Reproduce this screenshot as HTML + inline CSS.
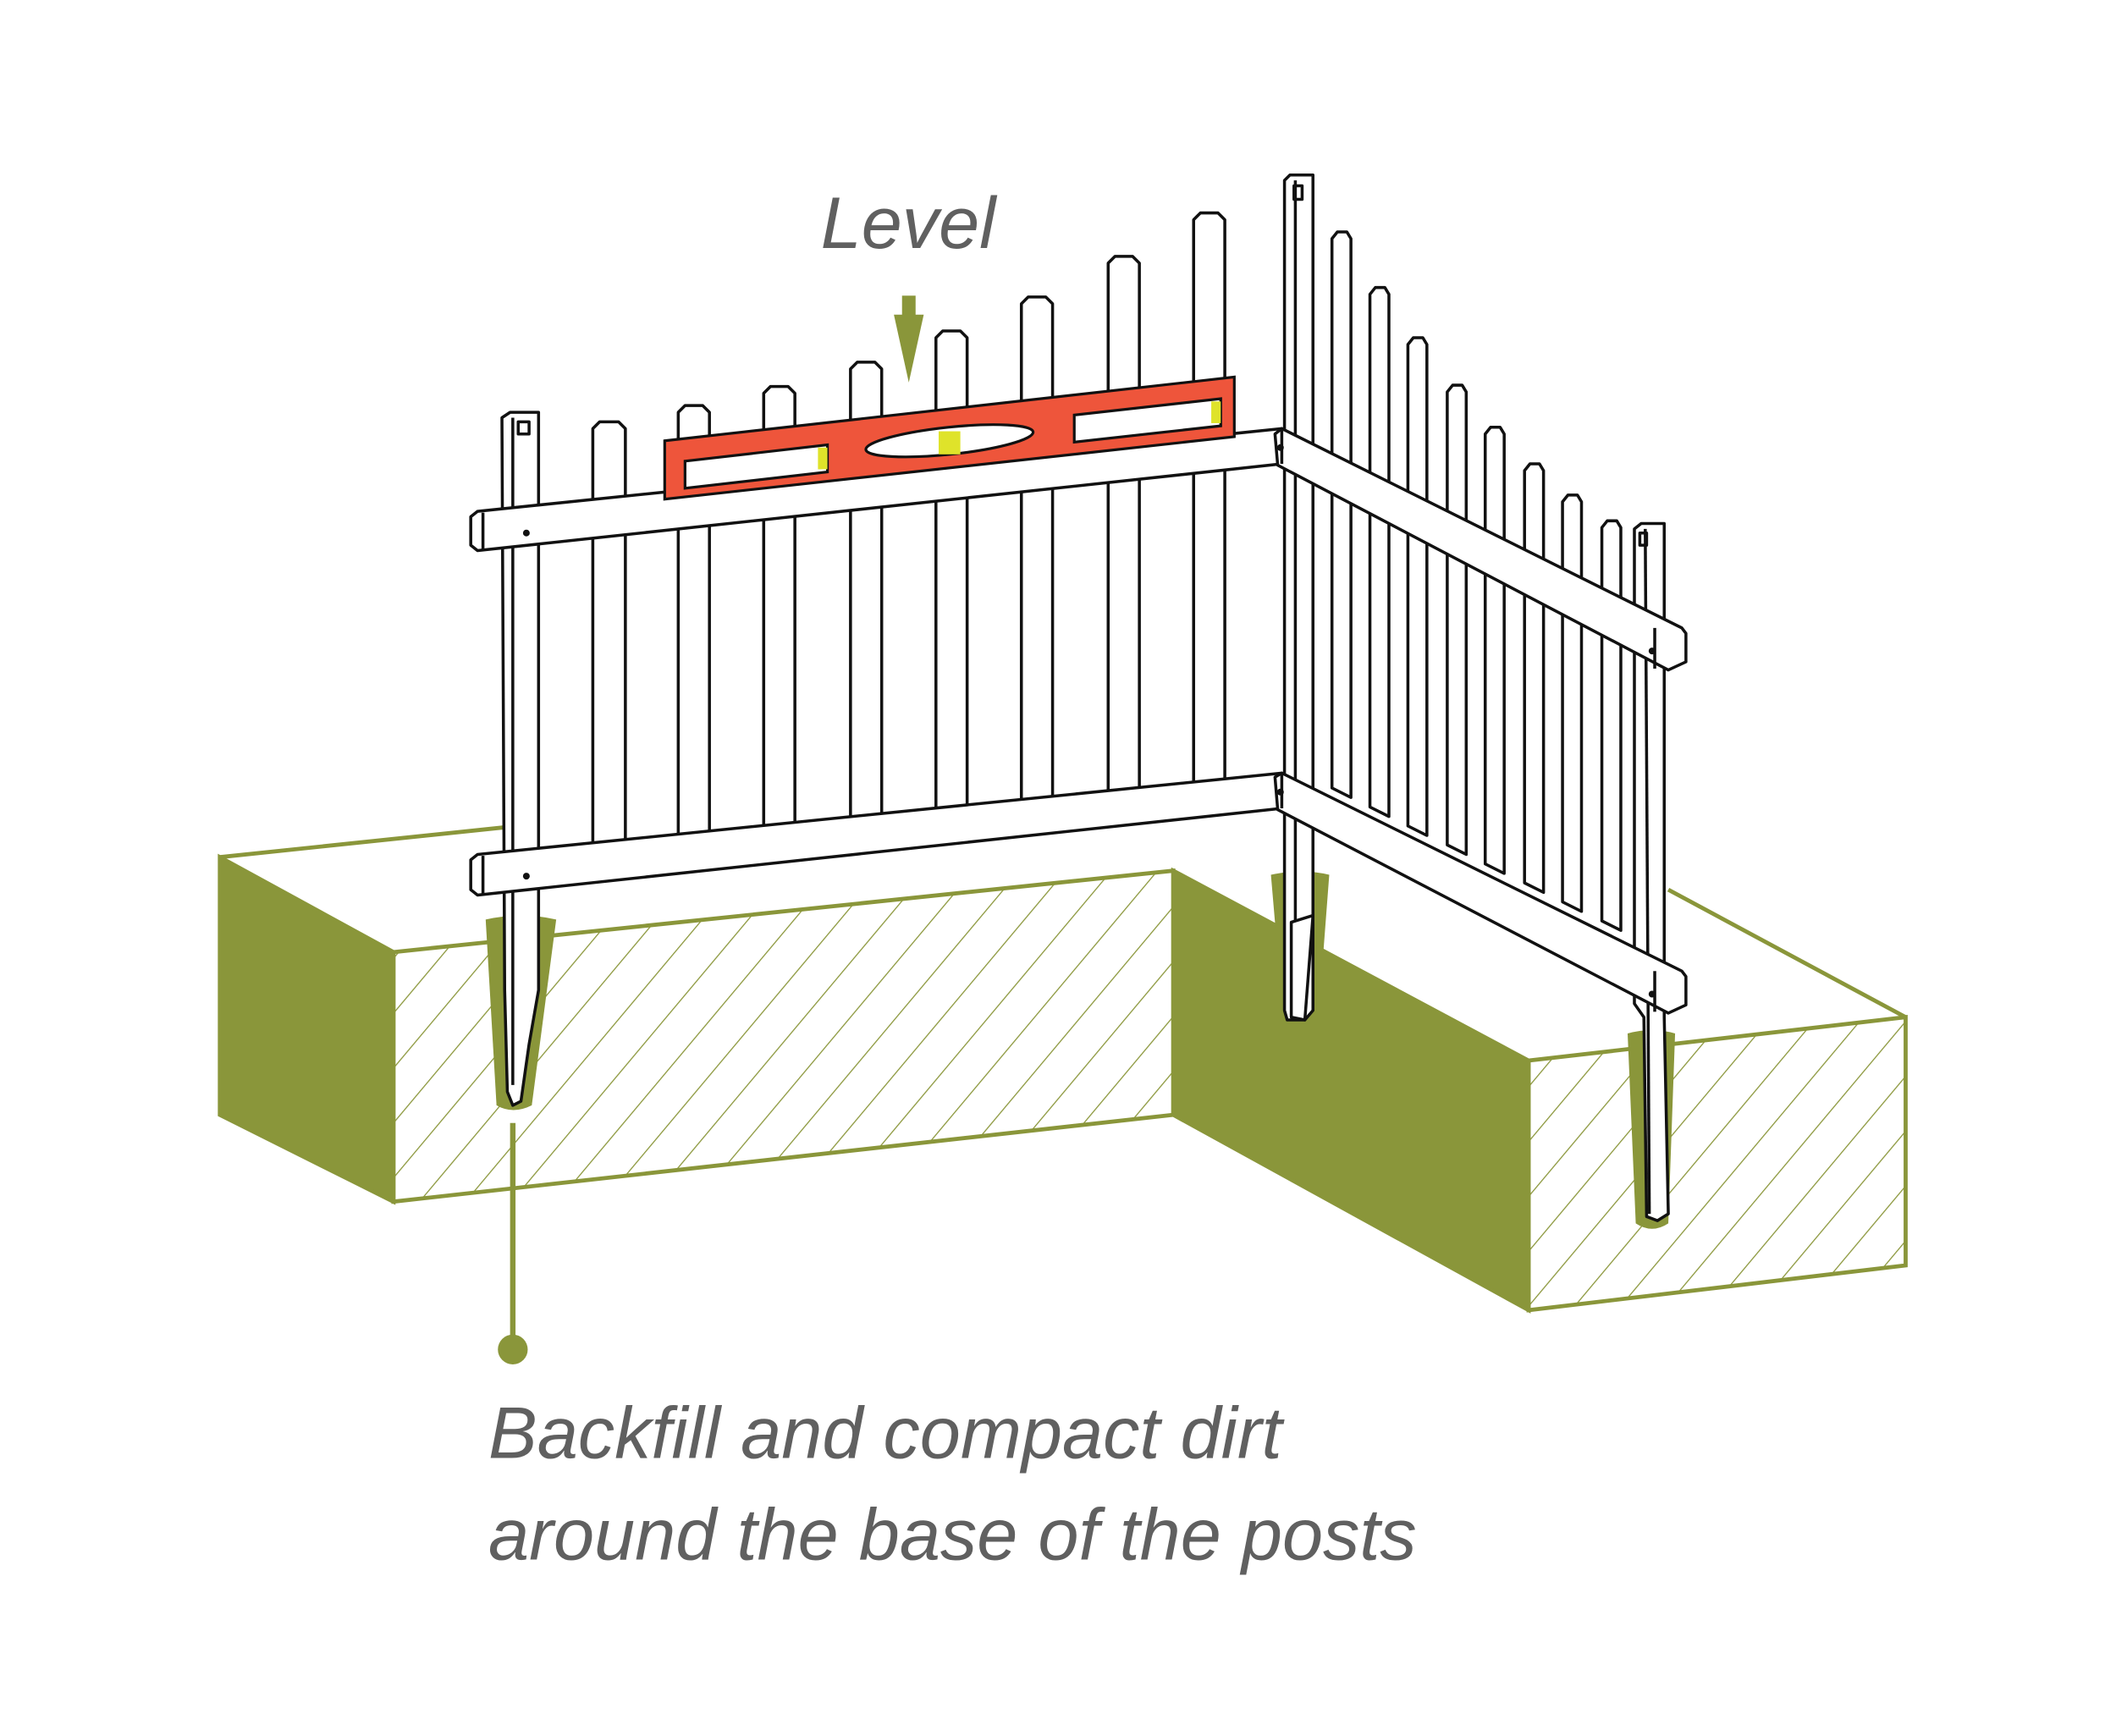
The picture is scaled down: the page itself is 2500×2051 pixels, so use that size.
<!DOCTYPE html>
<html><head><meta charset="utf-8"><style>
html,body{margin:0;padding:0;background:#fff;}
svg{display:block;}
</style></head><body>
<svg width="2500" height="2051" viewBox="0 0 1560 1280" xmlns="http://www.w3.org/2000/svg">
<defs>
<pattern id="h" patternUnits="userSpaceOnUse" width="26" height="26" patternTransform="rotate(40)">
<line x1="0" y1="0" x2="0" y2="26" stroke="#8a963a" stroke-width="1.6"/>
</pattern>
</defs>
<rect width="1560" height="1280" fill="#fff"/>
<g stroke="#8a963a" stroke-width="3" fill="none">
<line x1="162" y1="632" x2="372" y2="610"/>
<line x1="1230" y1="656" x2="1405" y2="750"/>
<polygon points="162,632 290,702 290,886 162,822" fill="#8a963a"/>
<polygon points="290,702 865,642 865,822 290,886" fill="url(#h)"/>
<polygon points="865,642 1127,782 1127,966 865,822" fill="#8a963a"/>
<polygon points="1127,782 1405,750 1405,933 1127,966" fill="url(#h)"/>
</g>
<!-- backfill -->
<g fill="#8a963a">
<path d="M358,678 Q384,672 410,678 L392,815 Q378,822 366,815 Z"/>
<path d="M937,645 Q959,640 980,645 L972,750 L946,750 Z"/>
<path d="M1200,762 Q1218,757 1235,762 L1230,902 Q1218,910 1206,902 Z"/>
</g>
<g stroke="#111" stroke-width="2.2" fill="#fff" stroke-linejoin="round">
<!-- left post -->
<path d="M370,308 L376,304 L397,304 L397,730 L390,770 L384,812 L378,815 L374,805 L372,730 Z"/>
<rect x="382" y="311" width="8" height="9"/>
<line x1="378" y1="308" x2="378" y2="800"/>
<!-- left pickets -->
<path d="M437,316 L442,311 L456,311 L461,316 L461,624 L437,626 Z"/>
<path d="M500,304 L505,299 L518,299 L523,304 L523,618 L500,620 Z"/>
<path d="M563,290 L568,285 L581,285 L586,290 L586,611 L563,613 Z"/>
<path d="M627,272 L632,267 L645,267 L650,272 L650,605 L627,607 Z"/>
<path d="M690,249 L695,244 L708,244 L713,249 L713,598 L690,600 Z"/>
<path d="M753,224 L758,219 L771,219 L776,224 L776,592 L753,594 Z"/>
<path d="M817,194 L822,189 L835,189 L840,194 L840,585 L817,587 Z"/>
<path d="M880,162 L885,157 L898,157 L903,162 L903,579 L880,581 Z"/>
<!-- corner post -->
<path d="M947,133 L951,129 L968,129 L968,745 L962,752 L949,752 L947,745 Z"/>
<rect x="954" y="137" width="6" height="10"/>
<line x1="955" y1="133" x2="955" y2="745"/>
<path d="M952,680 L968,675 L962,752 L952,750 Z"/>
<!-- right pickets -->
<path d="M982,176 L986,171 L993,171 L996,176 L996,588 L982,581 Z"/>
<path d="M1010,217 L1014,212 L1021,212 L1024,217 L1024,602 L1010,595 Z"/>
<path d="M1038,254 L1042,249 L1049,249 L1052,254 L1052,616 L1038,609 Z"/>
<path d="M1067,289 L1071,284 L1078,284 L1081,289 L1081,630 L1067,623 Z"/>
<path d="M1095,320 L1099,315 L1106,315 L1109,320 L1109,644 L1095,637 Z"/>
<path d="M1124,347 L1128,342 L1135,342 L1138,347 L1138,658 L1124,651 Z"/>
<path d="M1152,370 L1156,365 L1163,365 L1166,370 L1166,672 L1152,665 Z"/>
<path d="M1181,389 L1185,384 L1192,384 L1195,389 L1195,686 L1181,679 Z"/>
<!-- right post -->
<path d="M1205,390 L1210,386 L1227,386 L1227,750 L1230,895 L1222,900 L1214,897 L1212,750 L1205,740 Z"/>
<rect x="1209" y="393" width="5" height="9"/>
<line x1="1213" y1="390" x2="1216" y2="895"/>
<!-- left rails -->
<path d="M347,381 L352,377 L945,316 L945,342 L352,406 L347,402 Z"/>
<line x1="356" y1="378" x2="356" y2="406"/>
<path d="M347,634 L352,630 L945,570 L945,596 L352,660 L347,656 Z"/>
<line x1="356" y1="631" x2="356" y2="660"/>
<!-- right rails -->
<path d="M940,320 L945,316 L1240,463 L1243,467 L1243,488 L1230,494 L942,343 Z"/>
<line x1="945" y1="316" x2="945" y2="342"/>
<line x1="1220" y1="463" x2="1220" y2="493"/>
<path d="M940,573 L945,570 L1240,716 L1243,720 L1243,741 L1230,747 L942,597 Z"/>
<line x1="945" y1="570" x2="945" y2="596"/>
<line x1="1220" y1="716" x2="1220" y2="746"/>
</g>
<g fill="#111">
<circle cx="388" cy="393" r="2.5"/><circle cx="388" cy="646" r="2.5"/>
<circle cx="944" cy="330" r="2.5"/><circle cx="944" cy="584" r="2.5"/>
<circle cx="1218" cy="480" r="2.5"/><circle cx="1218" cy="733" r="2.5"/>
</g>
<!-- level -->
<g stroke="#111" stroke-width="2">
<polygon points="490,325 910,278 910,322 490,368" fill="#ee553b"/>
<polygon points="505,340 610,328 610,348 505,360" fill="#fff"/>
<polygon points="792,306 900,294 900,314 792,326" fill="#fff"/>
<ellipse cx="700" cy="325" rx="62" ry="10" transform="rotate(-6 700 325)" fill="#fff"/>
<rect x="603" y="330" width="7" height="16" fill="#dfe32a" stroke="none"/>
<rect x="692" y="318" width="16" height="17" fill="#dfe32a" stroke="none"/>
<rect x="893" y="296" width="7" height="16" fill="#dfe32a" stroke="none"/>
</g>
<!-- arrow -->
<rect x="665" y="218" width="10" height="16" fill="#8a963a"/>
<polygon points="659,232 681,232 670,282" fill="#8a963a"/>
<!-- callout -->
<line x1="378" y1="828" x2="378" y2="990" stroke="#8a963a" stroke-width="4"/>
<circle cx="378" cy="995" r="11" fill="#8a963a"/>
<g font-family="Liberation Sans, sans-serif" font-style="italic" fill="#606060">
<text x="605" y="183" font-size="54">Level</text>
<text x="360" y="1075" font-size="54">Backfill and compact dirt</text>
<text x="360" y="1150" font-size="54">around the base of the posts</text>
</g>
</svg>
</body></html>
